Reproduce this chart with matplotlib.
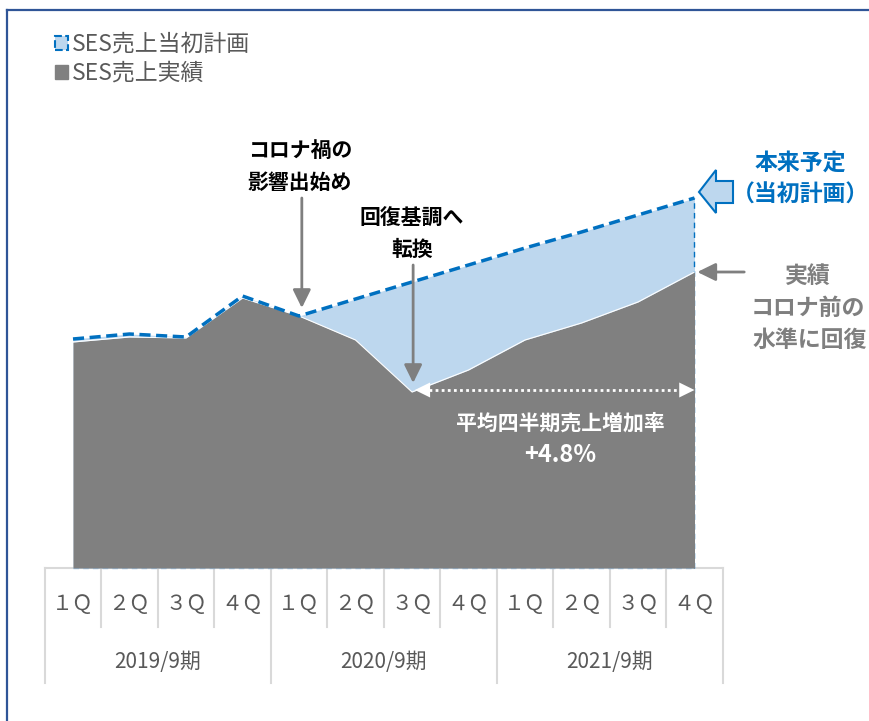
import numpy as np
import matplotlib
matplotlib.use('Agg')
import matplotlib.pyplot as plt
from matplotlib.patches import Patch, Polygon
from matplotlib.lines import Line2D
from matplotlib.transforms import Affine2D

plt.rcParams['font.family'] = ['Noto Sans CJK JP', 'DejaVu Sans']

# data (relative sales level)
quarters = ['１Ｑ', '２Ｑ', '３Ｑ', '４Ｑ'] * 3
years = ['2019/9期', '2020/9期', '2021/9期']
actual = [226, 231, 230, 270, 252, 228, 176, 198, 228, 245, 266, 296]
plan = [229, 234, 231, 272, 252, 269, 286, 303, 320, 336, 353, 370]

BLUE = '#0070C0'
LBLUE = '#BDD7EE'
GRAY = '#808080'
AGRAY = '#7F7F7F'
TXT = '#595959'

W, H = 870, 721
fig = plt.figure(figsize=(W / 100, H / 100), dpi=100)
pix = Affine2D().scale(1 / W, -1 / H).translate(0, 1) + fig.transFigure

ax = fig.add_axes([0, 0, 1, 1])
x0, dx, y0 = 73, 56.5, 568   # where the first quarter / zero level sit (pixels)
ax.set_xlim(-x0 / dx, (W - x0) / dx)
ax.set_ylim(-(H - y0), y0)
ax.axis('off')

x = np.arange(len(actual))

# areas
ax.fill_between(x, 0, plan, color=LBLUE, lw=0, zorder=1)
ax.plot([x[0], x[-1]], [0, 0], color='#9DC3E6', lw=1, ls=(0, (4, 3)), zorder=1)
ax.plot([x[-1], x[-1]], [0, plan[-1]], color=BLUE, lw=1, ls=(0, (4, 3)), zorder=1)
ax.fill_between(x, 0, actual, color=GRAY, lw=0, zorder=2)
ax.plot(x, actual, color='white', lw=0.8, zorder=2)
ax.plot(x, plan, color=BLUE, lw=2.5, dashes=(3.2, 1.6), zorder=3)

# category table under the chart
lc = '#D9D9D9'
ax.plot([-0.5, 11.5], [0, 0], color=lc, lw=1.5, clip_on=False, zorder=0)
for b in range(13):
    bottom = -115 if b % 4 == 0 else -59
    ax.plot([b - 0.5, b - 0.5], [0, bottom], color=lc, lw=1.5, clip_on=False, zorder=0)
for i, q in enumerate(quarters):
    ax.text(i, -36, q, ha='center', va='center', fontsize=15, color=TXT)
for j, yr in enumerate(years):
    ax.text(4 * j + 1.5, -94, yr, ha='center', va='center', fontsize=15, color=TXT)

# arrows
arw = dict(arrowstyle='-|>,head_length=0.55,head_width=0.27', color=AGRAY, lw=2,
           shrinkA=0, shrinkB=0, mutation_scale=20)
ax.annotate('', xy=(4.05, actual[4] + 8), xytext=(4.05, 370), arrowprops=arw)
ax.annotate('', xy=(6.02, actual[6] + 9), xytext=(6.02, 303), arrowprops=arw)
ax.annotate('', xy=(11.05, actual[-1]), xytext=(11.88, actual[-1]), arrowprops=arw)

# dotted double arrow
ya = actual[6] + 2
ax.plot([6.3, 10.75], [ya, ya], color='white', lw=2, ls=(0, (1, 1.2)), zorder=4)
wh = dict(arrowstyle='-|>,head_length=0.55,head_width=0.27', color='white', lw=0,
          shrinkA=0, shrinkB=0, mutation_scale=20)
ax.annotate('', xy=(6.05, ya), xytext=(6.35, ya), arrowprops=wh, zorder=4)
ax.annotate('', xy=(11.0, ya), xytext=(10.7, ya), arrowprops=wh, zorder=4)

# block arrow next to the plan end
blk = [(699, 192), (716, 170), (716, 181), (733, 181), (733, 203), (716, 203), (716, 213)]
fig.add_artist(Polygon(blk, closed=True, facecolor=LBLUE, edgecolor=BLUE, lw=1.5,
                       transform=pix))


def put(xp, yp, s, **kw):
    fig.text(xp / W, 1 - yp / H, s, ha='center', va='center', **kw)


bold = dict(fontsize=15, fontweight='bold')
big = dict(fontsize=16.5, fontweight='bold')
put(300, 150, 'コロナ禍の', color='black', **bold)
put(300, 182, '影響出始め', color='black', **bold)
put(412, 218, '回復基調へ', color='black', **bold)
put(412, 249, '転換', color='black', **bold)
put(800, 163, '本来予定', color=BLUE, **big)
put(800, 195, '（当初計画）', color=BLUE, **big)
put(808, 276, '実績', color=AGRAY, **big)
put(808, 308, 'コロナ前の', color=AGRAY, **big)
put(810, 340, '水準に回復', color=AGRAY, **big)
put(560, 423, '平均四半期売上増加率', color='white', **bold)
put(560, 455, '+4.8%', color='white', fontsize=17, fontweight='bold')

# legend
handles = [Patch(facecolor=LBLUE, edgecolor=BLUE, lw=1.5, ls='--'),
           Patch(facecolor=GRAY, edgecolor=GRAY)]
fig.legend(handles, ['SES売上当初計画', 'SES売上実績'], loc='upper left',
           bbox_to_anchor=(55 / W, 1 - 33 / H), frameon=False, fontsize=16.5,
           labelcolor=TXT, handlelength=0.55, handleheight=0.55, handletextpad=0.2,
           labelspacing=0.25, borderpad=0, borderaxespad=0)

# frame (top and left edge visible)
fig.add_artist(Line2D([7, 870], [10, 10], color='#2F5597', lw=1.6, transform=pix))
fig.add_artist(Line2D([7, 7], [10, 721], color='#2F5597', lw=1.6, transform=pix))

fig.savefig('out.png', dpi=100)
